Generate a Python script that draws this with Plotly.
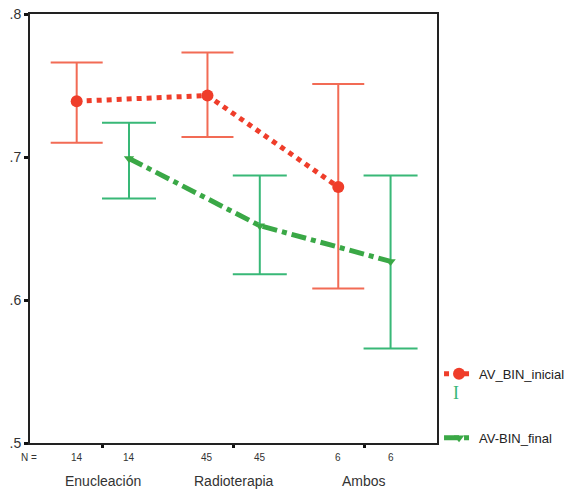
import plotly.graph_objects as go

# ---- data ----
categories = ["Enucleación", "Radioterapia", "Ambos"]
cat_pos = [1, 2, 3]
n_inicial = [14, 45, 6]
n_final = [14, 45, 6]
mean_inicial = [0.739, 0.743, 0.679]
upper_inicial = [0.766, 0.773, 0.751]
lower_inicial = [0.710, 0.714, 0.608]
mean_final = [0.699, 0.652, 0.627]
upper_final = [0.724, 0.687, 0.687]
lower_final = [0.671, 0.618, 0.566]
y_tickvals = [0.5, 0.6, 0.7, 0.8]
y_ticktext = [".5", ".6", ".7", ".8"]
cluster_offset = 0.2

RED = "#ef3d2a"
RED_ERR = "#f26b55"
GREEN = "#3aa846"
GREEN_ERR = "#38b877"
FONT = "Liberation Sans, Arial, sans-serif"

x_ini = [c - cluster_offset for c in cat_pos]
x_fin = [c + cluster_offset for c in cat_pos]

fig = go.Figure()

fig.add_trace(go.Scatter(
    x=x_ini, y=mean_inicial, mode="lines+markers", name="AV_BIN_inicial",
    line=dict(color=RED, width=5, dash="dot"),
    marker=dict(color=RED, size=12, symbol="circle"),
    error_y=dict(type="data", symmetric=False,
                 array=[u - m for u, m in zip(upper_inicial, mean_inicial)],
                 arrayminus=[m - l for m, l in zip(mean_inicial, lower_inicial)],
                 color=RED_ERR, thickness=2, width=26),
    legendgroup="a",
))
fig.add_trace(go.Scatter(
    x=x_fin, y=mean_final, mode="lines+markers", name="AV-BIN_final",
    line=dict(color=GREEN, width=5, dash="dashdot"),
    marker=dict(color=GREEN, size=9, symbol="triangle-down"),
    error_y=dict(type="data", symmetric=False,
                 array=[u - m for u, m in zip(upper_final, mean_final)],
                 arrayminus=[m - l for m, l in zip(mean_final, lower_final)],
                 color=GREEN_ERR, thickness=2, width=27),
    legendgroup="b",
))

annotations = []
annotations.append(dict(x=-0.003, xref="paper", xanchor="center", y=0, yref="paper",
                        yanchor="middle", yshift=-14, text="N =", showarrow=False,
                        font=dict(size=10, color="#333", family=FONT)))
for xi, n in zip(x_ini, n_inicial):
    annotations.append(dict(x=xi, xref="x", y=0, yref="paper", yanchor="middle",
                            yshift=-14, text=str(n), showarrow=False,
                            font=dict(size=10, color="#333", family=FONT)))
for xi, n in zip(x_fin, n_final):
    annotations.append(dict(x=xi, xref="x", y=0, yref="paper", yanchor="middle",
                            yshift=-14, text=str(n), showarrow=False,
                            font=dict(size=10, color="#333", family=FONT)))
for c, name in zip(cat_pos, categories):
    annotations.append(dict(x=c, xref="x", y=0, yref="paper", yanchor="middle",
                            yshift=-38, text=name, showarrow=False,
                            font=dict(size=14, color="#333", family=FONT)))
# error-bar glyph of the legend
annotations.append(dict(x=1.059, xref="paper", y=0.089, yref="paper",
                        text="I", showarrow=False,
                        font=dict(size=18, color=GREEN_ERR, family="Liberation Serif, serif")))

fig.update_layout(
    width=573, height=489,
    margin=dict(l=30, r=136, t=14, b=46, autoexpand=False),
    paper_bgcolor="white", plot_bgcolor="white",
    font=dict(family=FONT, color="#333"),
    showlegend=True,
    legend=dict(x=1.005, y=0.196, xanchor="left", yanchor="top",
                font=dict(size=13, color="#222", family=FONT),
                tracegroupgap=44, bgcolor="rgba(0,0,0,0)",
                itemwidth=30),
    annotations=annotations,
    xaxis=dict(range=[0.443, 3.555], tickvals=cat_pos, ticktext=["", "", ""],
               showgrid=False, zeroline=False, showline=True, linecolor="#222",
               linewidth=2, mirror=True, ticks="outside", ticklen=3,
               tickwidth=3, tickcolor="#111", automargin=False),
    yaxis=dict(range=[0.5, 0.8], tickvals=y_tickvals, ticktext=y_ticktext,
               showgrid=False, zeroline=False, showline=True, linecolor="#222",
               linewidth=2, mirror=True, ticks="outside", ticklen=4,
               tickwidth=3, tickcolor="#111", automargin=False,
               ticklabeloverflow="allow",
               tickfont=dict(size=14, color="#333", family=FONT)),
)

# remove the browser's default 8px body margin so the figure fills the window
fig.write_html("out.html", config={"displayModeBar": False},
               post_script="document.body.style.margin='0';")
